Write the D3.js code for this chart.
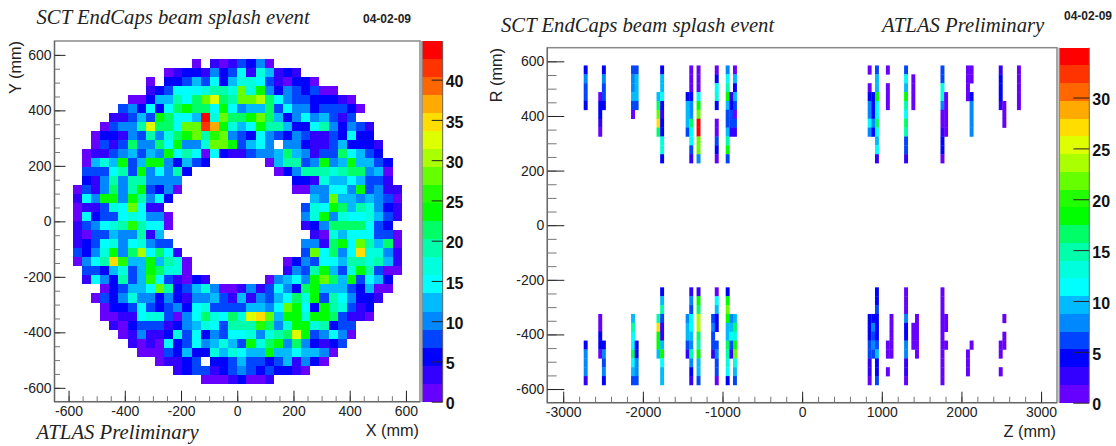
<!DOCTYPE html>
<html>
<head>
<meta charset="utf-8">
<script src="https://cdnjs.cloudflare.com/ajax/libs/d3/7.8.5/d3.min.js"></script>
<style>
    html, body { margin: 0; padding: 0; background: #fff; }
    svg { display: block; }
    text { fill: #222; }
</style>
</head>
<body>
<div id="chart"></div>
<script>
// palette, low to high
const palette = ["#6600ff", "#3300ff", "#0000ff", "#0044ff", "#0088ff", "#00bbff", "#00ffff", "#00ffdd", "#00ffaa", "#00ff66",
    "#00ff00", "#22ff00", "#66ff00", "#aaff00", "#ddff00", "#ffdd00", "#ffaa00", "#ff6600", "#ff3300", "#ff0000"];

const dateLabel = "04-02-09";
const titleLabel = "SCT EndCaps beam splash event";
const atlasLabel = "ATLAS Preliminary";

// X-Y hits: 40x40 bins, rows from Y=+650 down, first filled row is xyFirstRow. 0 = empty bin
const xyDomain = [-650, 650];
const xyBins = 40;
const xyMaxZ = 44.8;
const xyFirstRow = 2;
const xyRowStart = [15, 12, 10, 10, 8, 7, 6, 5, 4, 4, 3, 3, 3, 3, 2, 2, 2, 2, 2, 2, 2, 2, 2, 3, 3, 5, 4, 5, 5, 6, 7, 8, 9, 11, 13, 16];
const xyRowCounts = [
    [1,0,3,1,3,8,6,10,1],
    [1,3,6,6,3,10,6,8,15,3,17,12,3,6,3],
    [1,0,6,6,8,12,8,15,6,12,17,17,15,8,3,1,6,6,1],
    [3,6,8,15,15,15,17,19,19,17,28,17,24,10,6,10,8,6,8,1,1],
    [1,1,6,12,12,19,15,21,28,33,21,19,28,28,30,21,15,10,8,8,6,6,6,3,1],
    [8,10,6,15,6,15,21,24,21,21,15,24,15,10,12,12,21,8,15,10,10,6,8,8,8,6,1],
    [3,3,8,12,8,24,21,15,15,12,44,17,28,21,21,24,28,21,12,6,10,15,10,12,8,3,8],
    [1,8,10,10,19,33,21,21,15,28,28,42,37,24,17,12,15,24,19,19,12,6,6,15,19,10,6,10,8,3],
    [1,6,6,3,10,8,19,10,17,21,24,28,19,26,28,10,8,6,15,10,8,6,10,8,3,3,8,6,15,6,6],
    [1,8,3,8,21,10,10,21,15,24,10,10,17,28,28,24,8,12,15,10,0,10,10,6,3,3,8,12,6,6,6,3],
    [1,3,3,8,10,12,8,12,10,24,15,19,15,1,15,6,3,3,8,10,10,12,21,12,10,3,8,8,21,15,12,8,6],
    [1,12,17,12,24,8,12,24,24,10,6,12,8,6,0,0,0,0,0,0,1,12,19,19,8,10,24,10,12,24,12,12,8,6],
    [8,8,8,15,19,8,24,10,15,10,19,6,0,0,0,0,0,0,0,0,0,1,6,10,19,19,19,17,19,21,21,10,12,1],
    [6,3,10,19,10,19,19,10,10,10,10,0,0,0,0,0,0,0,0,0,0,0,0,6,6,3,17,12,12,15,12,8,8,3],
    [1,8,3,10,21,10,19,24,8,6,10,1,0,0,0,0,0,0,0,0,0,0,0,0,1,1,10,10,15,15,10,24,8,10,3,3],
    [3,15,10,24,24,10,24,19,10,15,6,0,0,0,0,0,0,0,0,0,0,0,0,0,0,0,12,10,28,12,12,10,12,10,8,1],
    [1,3,3,8,17,15,28,15,3,3,0,0,0,0,0,0,0,0,0,0,0,0,0,0,0,8,17,15,24,21,12,19,17,10,6,3],
    [1,15,6,8,8,15,17,15,10,10,1,0,0,0,0,0,0,0,0,0,0,0,0,0,0,10,17,24,10,17,15,15,17,12,8,3],
    [3,8,10,15,17,19,26,19,15,15,1,0,0,0,0,0,0,0,0,0,0,0,0,0,0,3,6,10,21,21,21,21,15,8,6],
    [3,1,8,8,12,10,10,19,3,12,0,0,0,0,0,0,0,0,0,0,0,0,0,0,0,0,3,1,17,12,15,15,15,8,8,1],
    [3,6,8,15,17,10,15,17,10,8,8,0,0,0,0,0,0,0,0,0,0,0,0,0,0,10,10,3,21,24,15,28,19,12,21,1],
    [8,6,10,17,24,10,21,30,15,21,15,3,0,0,0,0,0,0,0,0,0,0,0,0,0,8,28,15,21,10,15,35,17,17,10,3],
    [1,10,15,19,35,26,12,12,24,12,19,17,1,0,0,0,0,0,0,0,0,0,0,1,6,10,8,15,15,12,19,19,17,19,12,3],
    [8,8,6,12,17,8,12,24,21,17,17,1,0,0,0,0,0,0,0,0,0,0,3,10,8,19,24,12,8,17,24,19,8,1,1],
    [3,15,10,6,19,8,12,26,15,8,3,1,6,3,0,0,0,0,0,0,1,10,12,15,10,24,28,21,12,24,8,15,12,6],
    [1,6,8,12,12,15,28,19,6,8,12,17,10,1,1,3,10,3,8,15,10,6,21,24,12,12,12,8,6,12,1,1],
    [1,8,6,10,17,10,10,6,10,6,3,10,10,12,8,3,12,3,10,8,12,15,21,17,24,8,19,15,10,6,6,3],
    [1,6,6,8,15,8,6,8,10,6,15,17,8,8,8,8,12,12,10,15,28,24,15,6,24,19,17,8,3,6],
    [1,1,3,3,15,17,17,8,1,10,15,21,17,15,21,17,33,35,28,12,24,24,17,24,24,21,8,3,3,1],
    [3,1,6,8,8,8,3,6,10,12,17,15,8,19,19,19,26,21,10,17,24,24,17,19,6,8,8],
    [1,3,10,3,3,6,17,8,15,6,10,8,15,15,17,10,17,19,21,33,24,8,10,15,10,1],
    [3,1,3,1,15,6,8,15,10,12,17,12,8,24,17,21,24,10,21,10,6,3,6,8],
    [1,1,1,8,6,12,6,6,17,12,17,15,12,12,24,12,12,15,12,12,10,1],
    [1,3,3,6,8,0,6,6,8,12,8,8,6,8,12,3,10,6,1],
    [3,6,8,8,3,6,8,10,8,6,8,6,6,3,1],
    [1,1,1,3,6,1,1,3]
];

// Z-R hits: only the filled Z bins (of 140), each with 11 R bins on the upper and on the lower band
const zDomain = [-3200, 3200];
const zBins = 140;
const rDomain = [-650, 650];
const rBins = 40;
const zrMaxZ = 34.9;
const upperFirstRow = 2;
const lowerFirstRow = 27;
const zrBinIndex = [10, 14, 15, 23, 24, 30, 31, 38, 39, 41, 45, 46, 49, 50, 51, 88, 89, 90, 93, 94, 98, 100, 101, 108, 109, 115, 116, 124, 125, 129];
const zrUpper = [
    [4,8,6,6,4,0,0,0,0,0,0],
    [0,0,0,1,4,4,3,1,0,0,0],
    [4,8,6,6,4,0,0,0,0,0,0],
    [6,8,8,10,6,1,0,0,0,0,0],
    [6,10,10,10,6,0,0,0,0,0,0],
    [0,0,0,10,17,22,27,17,0,0,0],
    [4,10,10,11,4,3,4,4,13,13,4],
    [0,0,0,4,10,10,10,6,0,0,0],
    [1,1,1,4,8,8,17,11,11,6,3],
    [1,1,1,11,18,22,34,34,22,22,8],
    [0,0,0,0,0,0,0,0,0,0,0],
    [1,4,11,13,4,0,1,1,6,4,1],
    [8,11,15,18,10,6,6,10,15,18,6],
    [0,0,0,3,4,6,6,3,0,0,0],
    [1,10,4,10,6,1,6,3,0,0,0],
    [1,0,1,4,8,8,11,8,0,0,0],
    [0,0,0,4,4,4,8,4,0,0,0],
    [6,10,10,18,11,11,17,11,10,11,3],
    [1,0,1,1,1,0,0,0,0,0,0],
    [0,0,0,0,0,0,0,0,0,0,0],
    [6,11,10,18,15,11,17,15,6,6,3],
    [0,1,1,1,1,0,0,0,0,0,0],
    [0,0,0,0,0,0,0,0,0,0,0],
    [6,6,13,13,8,1,1,3,4,4,1],
    [0,0,0,1,1,1,1,1,0,0,0],
    [1,1,1,1,0,0,0,0,0,0,0],
    [1,1,0,4,8,8,8,8,0,0,0],
    [3,4,4,4,3,0,0,0,0,0,0],
    [0,0,0,0,1,1,1,0,0,0,0],
    [1,1,1,1,1,0,0,0,0,0,0]
];
const zrLower = [
    [0,0,0,0,0,0,4,8,8,8,3],
    [0,0,0,1,1,4,4,1,0,0,0],
    [0,0,0,0,0,0,4,8,6,8,4],
    [0,0,0,10,15,11,11,17,11,10,6],
    [0,0,0,0,0,0,4,4,8,8,6],
    [0,0,0,15,27,18,18,10,0,0,0],
    [4,10,15,6,3,3,10,18,11,10,10],
    [0,0,0,8,10,10,6,3,0,0,0],
    [3,8,6,11,11,10,8,15,8,4,3],
    [3,18,17,24,24,17,15,18,10,10,6],
    [0,0,0,6,8,6,6,3,0,0,0],
    [1,11,10,4,4,0,6,8,6,6,1],
    [4,18,22,18,10,10,17,15,13,11,4],
    [0,0,0,8,10,11,6,3,0,0,0],
    [0,0,0,10,17,13,18,22,13,10,6],
    [0,0,0,4,4,4,6,6,3,3,1],
    [0,0,0,4,8,6,8,6,0,0,0],
    [4,4,6,4,4,4,6,10,4,4,6],
    [0,0,0,0,0,0,1,1,0,1,0],
    [0,0,0,1,1,1,1,1,0,0,0],
    [1,1,1,8,4,4,8,8,3,3,1],
    [0,0,0,0,1,1,1,0,0,0,0],
    [0,0,0,1,1,1,1,1,0,0,0],
    [1,1,1,1,1,1,1,1,1,1,1],
    [0,0,0,1,1,0,1,0,0,0,0],
    [0,0,0,0,0,0,0,1,1,1,0],
    [0,0,0,0,0,0,1,0,0,0,0],
    [0,0,0,0,0,0,1,1,0,1,0],
    [0,0,0,1,0,1,1,0,0,0,0],
    [0,0,0,0,0,0,0,0,0,0,0]
];

// ticks
const xyMajor = [-600, -400, -200, 0, 200, 400, 600];
const xyMinor = d3.range(-600, 601, 50);
const zMajor = [-3000, -2000, -1000, 0, 1000, 2000, 3000];
const zMinor = d3.range(-3000, 3001, 200);
const rMajor = [-600, -400, -200, 0, 200, 400, 600];
const rMinor = d3.range(-600, 601, 50);
const xyBarTicks = [0, 5, 10, 15, 20, 25, 30, 35, 40];
const zrBarTicks = [0, 5, 10, 15, 20, 25, 30];

const svg = d3.select("#chart").append("svg")
    .attr("width", 1116)
    .attr("height", 446);

// the reference is a slightly soft bitmap
svg.append("defs").append("filter")
    .attr("id", "soft")
    .append("feGaussianBlur")
    .attr("stdDeviation", 0.35);

function drawFrame(g, x0, x1, y0, y1) {
    g.append("rect")
        .attr("x", x0).attr("y", y0)
        .attr("width", x1 - x0).attr("height", y1 - y0)
        .attr("fill", "none")
        .attr("stroke", "#8a8a8a")
        .attr("stroke-width", 1.5);
    // left and bottom edges look darker than the other two
    g.append("path")
        .attr("d", `M${x0},${y0}V${y1}H${x1}`)
        .attr("fill", "none")
        .attr("stroke", "#666")
        .attr("stroke-width", 1.2);
}

function drawAxes(g, x, y, xMajor, xMinor, yMajor, yMinor, opt) {
    const bottom = y.range()[0];
    const left = x.range()[0];

    const xm = g.append("g").attr("transform", `translate(0,${bottom})`)
        .call(d3.axisBottom(x).tickValues(xMinor).tickSize(-opt.xMinorLen).tickFormat(""));
    const xM = g.append("g").attr("transform", `translate(0,${bottom})`)
        .call(d3.axisBottom(x).tickValues(xMajor).tickSize(-opt.xMajorLen).tickPadding(opt.xPad).tickFormat(d => String(d)));
    const ym = g.append("g").attr("transform", `translate(${left},0)`)
        .call(d3.axisLeft(y).tickValues(yMinor).tickSize(-opt.yMinorLen).tickFormat(""));
    const yM = g.append("g").attr("transform", `translate(${left},0)`)
        .call(d3.axisLeft(y).tickValues(yMajor).tickSize(-opt.yMajorLen).tickPadding(opt.yPad).tickFormat(d => String(d)));

    [xm, xM, ym, yM].forEach(a => {
        a.select(".domain").remove();
        a.selectAll("text")
            .attr("font-family", "Liberation Sans")
            .attr("font-size", opt.fontSize)
            .style("fill", "#222");
    });
    [xm, ym].forEach(a => a.selectAll("line").attr("stroke", "#777"));
    [xM, yM].forEach(a => a.selectAll("line").attr("stroke", "#222"));
}

function drawColorBar(g, x0, x1, y0, y1, maxZ, ticks, tickLen, labelX) {
    const z = d3.scaleLinear().domain([0, maxZ]).range([y1, y0]);
    const step = maxZ / palette.length;

    g.append("g").selectAll("rect")
        .data(palette)
        .join("rect")
        .attr("x", x0)
        .attr("width", x1 - x0)
        .attr("y", (d, i) => z((i + 1) * step))
        .attr("height", (d, i) => z(i * step) - z((i + 1) * step))
        .attr("fill", d => d)
        .attr("shape-rendering", "crispEdges");

    g.append("line")
        .attr("x1", x0).attr("x2", x0)
        .attr("y1", y0).attr("y2", y1)
        .attr("stroke", "#8a8a8a").attr("stroke-width", 1.5);
    g.append("line")
        .attr("x1", x1).attr("x2", x1)
        .attr("y1", y0).attr("y2", y1)
        .attr("stroke", "#666");

    const axis = g.append("g").attr("transform", `translate(${x1},0)`)
        .call(d3.axisRight(z).tickValues(ticks).tickSize(-tickLen).tickPadding(labelX));
    axis.select(".domain").remove();
    axis.selectAll("line").attr("stroke", "#222");
    axis.selectAll("text")
        .attr("font-family", "Liberation Sans")
        .attr("font-size", 16)
        .attr("font-weight", "bold")
        .attr("dy", "0.45em")
        .style("fill", "#111");
}

function addText(g, str, x, y, family, size, opt) {
    opt = opt || {};
    const t = g.append("text")
        .attr("x", x).attr("y", y)
        .attr("font-family", family)
        .attr("font-size", size)
        .attr("text-anchor", opt.anchor || "start")
        .text(str);
    if (opt.italic) t.attr("font-style", "italic");
    if (opt.bold) t.attr("font-weight", "bold");
    if (opt.rotate) t.attr("transform", `rotate(-90,${x},${y})`);
    return t;
}

function drawXY() {
    const g = svg.append("g");
    const x = d3.scaleLinear().domain(xyDomain).range([54.5, 420]);
    const y = d3.scaleLinear().domain(xyDomain).range([401.7, 41]);
    const color = d3.scaleQuantize().domain([0, xyMaxZ]).range(palette);
    const binW = (xyDomain[1] - xyDomain[0]) / xyBins;

    const cells = [];
    xyRowCounts.forEach((counts, i) => {
        counts.forEach((v, k) => {
            if (v > 0) cells.push({ col: xyRowStart[i] + k, row: xyFirstRow + i, v: v });
        });
    });

    g.append("g")
        .attr("filter", "url(#soft)")
        .selectAll("rect")
        .data(cells)
        .join("rect")
        .attr("x", d => x(xyDomain[0] + d.col * binW))
        .attr("y", d => y(xyDomain[1] - d.row * binW))
        .attr("width", x(binW) - x(0))
        .attr("height", y(0) - y(binW))
        .attr("fill", d => color(d.v))
        .attr("shape-rendering", "crispEdges");

    drawFrame(g, 54.5, 420, 41, 401.7);
    drawAxes(g, x, y, xyMajor, xyMinor, xyMajor, xyMinor, {
        xMajorLen: 11, xMinorLen: 5.5, yMajorLen: 11, yMinorLen: 5.5, xPad: 4, yPad: 3, fontSize: 14
    });
    drawColorBar(g, 422, 442.7, 41, 401.7, xyMaxZ, xyBarTicks, 11, 3);

    addText(g, titleLabel, 36.5, 24, "Liberation Serif", 20.7, { italic: true });
    addText(g, dateLabel, 363, 23, "Liberation Sans", 12, { bold: true });
    addText(g, atlasLabel, 36.5, 439, "Liberation Serif", 20.7, { italic: true });
    addText(g, "X (mm)", 419, 436, "Liberation Sans", 16.3, { anchor: "end" });
    addText(g, "Y (mm)", 21, 41, "Liberation Sans", 16.3, { anchor: "end", rotate: true });
}

function drawZR() {
    const g = svg.append("g");
    const x = d3.scaleLinear().domain(zDomain).range([547.3, 1057]);
    const y = d3.scaleLinear().domain(rDomain).range([402.7, 47.7]);
    const color = d3.scaleQuantize().domain([0, zrMaxZ]).range(palette);
    const zBinW = (zDomain[1] - zDomain[0]) / zBins;
    const rBinW = (rDomain[1] - rDomain[0]) / rBins;

    const cells = [];
    zrBinIndex.forEach((bin, i) => {
        zrUpper[i].forEach((v, k) => {
            if (v > 0) cells.push({ bin: bin, row: upperFirstRow + k, v: v });
        });
        zrLower[i].forEach((v, k) => {
            if (v > 0) cells.push({ bin: bin, row: lowerFirstRow + k, v: v });
        });
    });

    // narrow columns: no crisp edges here, a small overlap hides the seams instead
    g.append("g")
        .attr("filter", "url(#soft)")
        .selectAll("rect")
        .data(cells)
        .join("rect")
        .attr("x", d => x(zDomain[0] + d.bin * zBinW))
        .attr("y", d => y(rDomain[1] - d.row * rBinW))
        .attr("width", x(zBinW) - x(0) + 0.3)
        .attr("height", y(0) - y(rBinW) + 0.3)
        .attr("fill", d => color(d.v));

    drawFrame(g, 547.3, 1057, 47.7, 402.7);
    drawAxes(g, x, y, zMajor, zMinor, rMajor, rMinor, {
        xMajorLen: 11, xMinorLen: 6, yMajorLen: 17, yMinorLen: 9.3, xPad: 4, yPad: 3, fontSize: 14
    });
    drawColorBar(g, 1059.3, 1089.3, 47.7, 402.7, zrMaxZ, zrBarTicks, 16, 3);

    addText(g, titleLabel, 501, 32, "Liberation Serif", 20.7, { italic: true });
    addText(g, atlasLabel, 882, 32, "Liberation Serif", 20.7, { italic: true });
    addText(g, dateLabel, 1064, 20, "Liberation Sans", 12, { bold: true });
    addText(g, "Z (mm)", 1056, 437, "Liberation Sans", 16.3, { anchor: "end" });
    addText(g, "R (mm)", 502, 48, "Liberation Sans", 16.3, { anchor: "end", rotate: true });
}

drawXY();
drawZR();
</script>
</body>
</html>
